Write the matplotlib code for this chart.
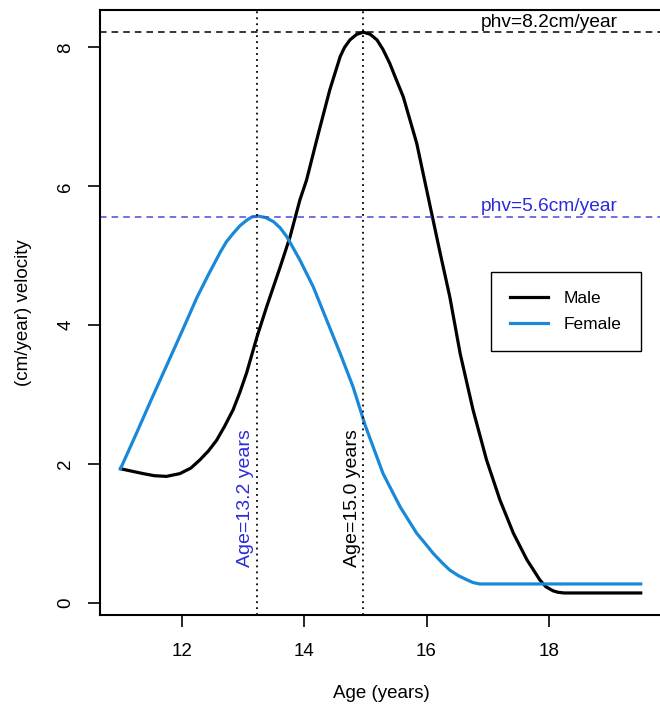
import matplotlib
matplotlib.use("Agg")
import matplotlib.pyplot as plt

plt.rcParams['font.family'] = ['Liberation Sans', 'DejaVu Sans']

# growth velocity curves (age in years, cm/year)
age_male = [11.0, 11.37, 11.55, 11.75, 11.97, 12.15, 12.30, 12.44, 12.57, 12.70,
            12.84, 12.95, 13.06, 13.23, 13.39, 13.61, 13.77, 13.93, 14.04, 14.23,
            14.42, 14.59, 14.66, 14.75, 14.86, 14.97, 15.08, 15.19, 15.29, 15.40,
            15.50, 15.62, 15.84, 16.06, 16.22, 16.38, 16.55, 16.76, 16.98, 17.20,
            17.42, 17.64, 17.85, 17.95, 18.07, 18.15, 18.25, 19.5]
vel_male = [1.93, 1.86, 1.83, 1.82, 1.86, 1.94, 2.06, 2.19, 2.34, 2.54,
            2.78, 3.03, 3.31, 3.83, 4.27, 4.84, 5.27, 5.80, 6.09, 6.75,
            7.39, 7.87, 8.00, 8.11, 8.19, 8.22, 8.19, 8.11, 7.97, 7.77,
            7.55, 7.29, 6.62, 5.71, 5.05, 4.41, 3.59, 2.78, 2.06, 1.48,
            1.00, 0.62, 0.33, 0.23, 0.17, 0.15, 0.14, 0.14]

age_female = [11.0, 11.25, 11.5, 11.75, 12.0, 12.25, 12.45, 12.63, 12.73, 12.84,
              12.95, 13.06, 13.15, 13.25, 13.37, 13.50, 13.61, 13.72, 13.93, 14.15,
              14.37, 14.59, 14.80, 15.0, 15.29, 15.57, 15.84, 16.0, 16.11, 16.25,
              16.38, 16.52, 16.66, 16.76, 16.87, 19.5]
vel_female = [1.93, 2.42, 2.92, 3.41, 3.90, 4.40, 4.75, 5.05, 5.20, 5.32,
              5.43, 5.51, 5.56, 5.57, 5.55, 5.49, 5.40, 5.27, 4.94, 4.55,
              4.07, 3.59, 3.11, 2.55, 1.86, 1.38, 1.00, 0.83, 0.71, 0.58,
              0.47, 0.39, 0.33, 0.29, 0.27, 0.27]

# peak height velocity and age at peak
phv_male, apv_male = 8.22, 14.97
phv_female, apv_female = 5.56, 13.23

BLUE_LINE = '#1a88d9'
BLUE_TEXT = '#2b2bd9'
BLUE_DASH = '#4a4ad6'

fig = plt.figure(figsize=(6.6, 7.07), dpi=100)
ax = fig.add_axes([100 / 660, 1 - 614.7 / 707, 562 / 660, 604.7 / 707])

ax.plot(age_male, vel_male, color='black', lw=2.3, label='Male')
ax.plot(age_female, vel_female, color=BLUE_LINE, lw=2.3, label='Female')

# reference lines
ax.axhline(phv_male, color='black', lw=1.1, ls=(0, (4.3, 3.3)))
ax.axhline(phv_female, color=BLUE_DASH, lw=1.1, ls=(0, (4.3, 3.3)))
ax.axvline(apv_male, color='black', lw=1.3, ls=(0, (1, 2.3)))
ax.axvline(apv_female, color='black', lw=1.3, ls=(0, (1, 2.3)))

ax.annotate('phv=%.1fcm/year' % phv_male, (18, phv_male), xytext=(0, 1),
            textcoords='offset points', ha='center', va='bottom', fontsize=13.8)
ax.annotate('phv=%.1fcm/year' % phv_female, (18, phv_female), xytext=(0, 1),
            textcoords='offset points', ha='center', va='bottom', fontsize=13.8,
            color=BLUE_TEXT)
ax.annotate('Age=%.1f years' % apv_male, (apv_male, 0.52), xytext=(-2, 0),
            textcoords='offset points', ha='right', va='bottom', rotation=90,
            fontsize=14)
ax.annotate('Age=%.1f years' % apv_female, (apv_female, 0.52), xytext=(-2, 0),
            textcoords='offset points', ha='right', va='bottom', rotation=90,
            fontsize=14, color=BLUE_TEXT)

ax.set_xlim(10.665, 19.848)
ax.set_ylim(-0.173, 8.54)
ax.set_xticks([12, 14, 16, 18])
ax.set_yticks([0, 2, 4, 6, 8])
ax.tick_params(direction='out', length=8.6, width=1.2, labelsize=13.5)
ax.tick_params(axis='x', pad=12)
ax.tick_params(axis='y', labelrotation=90, pad=10)
for lab in ax.get_yticklabels():
    lab.set_va('center')
for sp in ax.spines.values():
    sp.set_linewidth(1.5)

ax.set_xlabel('Age (years)', fontsize=13.5, labelpad=18)
ax.set_ylabel('(cm/year) velocity', fontsize=13.5, labelpad=18)

leg = ax.legend(loc='upper left', bbox_to_anchor=(491 / 660, 1 - 272 / 707),
                bbox_transform=fig.transFigure, borderaxespad=0, fontsize=12.5,
                fancybox=False, edgecolor='black', framealpha=1,
                handlelength=2.2, handletextpad=0.9, borderpad=1.1,
                labelspacing=0.62)
leg.get_frame().set_linewidth(1.0)

fig.savefig('out.png', dpi=100)
